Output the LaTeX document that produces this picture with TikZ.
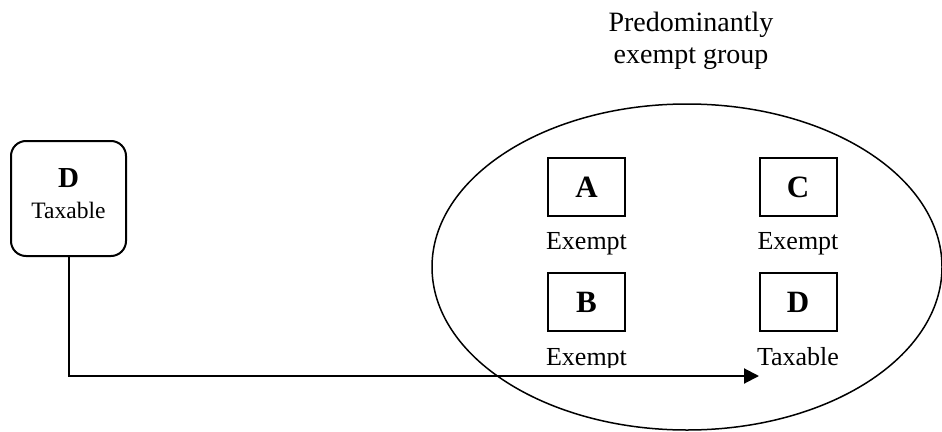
\documentclass[tikz,border=0pt]{standalone}
\usepackage{fontspec}
\setmainfont{Liberation Serif}
\usetikzlibrary{arrows.meta,shapes.geometric}
\begin{document}
\begin{tikzpicture}[x=1pt,y=-1pt,
  member/.style={draw,line width=2pt,minimum width=77pt,minimum height=58pt,inner sep=0pt,
    font=\fontsize{31}{31}\selectfont\bfseries},
  status/.style={anchor=base,inner sep=0pt,font=\fontsize{26}{26}\selectfont},
  titletext/.style={anchor=base,inner sep=0pt,font=\fontsize{28}{28}\selectfont},
  conn/.style={line width=2pt,-{Triangle[length=15pt,width=15pt]}}]
\useasboundingbox (0,0) rectangle (942,431);
% title
\node[titletext] (t1) at (691,31) {Predominantly};
\node[titletext] (t2) at (691,63.5) {exempt group};
% group ellipse
\node[draw,ellipse,line width=1.5pt,minimum width=510pt,minimum height=326pt,inner sep=0pt] (G) at (687,267) {};
% left entity
\node[draw,rounded corners=15pt,line width=2pt,minimum width=115pt,minimum height=115pt,inner sep=0pt] (L) at (68.5,198.5) {};
\node[anchor=base,inner sep=0pt,font=\fontsize{29}{29}\selectfont\bfseries] (LD) at (68.5,187.5) {D};
\node[anchor=base,inner sep=0pt,font=\fontsize{23.5}{23.5}\selectfont] (LT) at (68.5,218) {Taxable};
% members
\node[member] (A) at (586.5,187) {A};
\node[member] (C) at (798,187) {C};
\node[member] (B) at (586.5,302) {B};
\node[member] (D) at (798,302) {D};
\node[status] (Ae) at (586.5,249.5) {Exempt};
\node[status] (Ce) at (798,249.5) {Exempt};
\begin{scope}
\clip (530,330) rectangle (650,367.5);
\node[status] (Be) at (586.5,365.5) {Exempt};
\end{scope}
\node[status] (Dt) at (798,365.5) {Taxable};
% connector
\coordinate (tip) at (759,376);
\draw[conn] (L.south) |- (tip);
\end{tikzpicture}
\end{document}
